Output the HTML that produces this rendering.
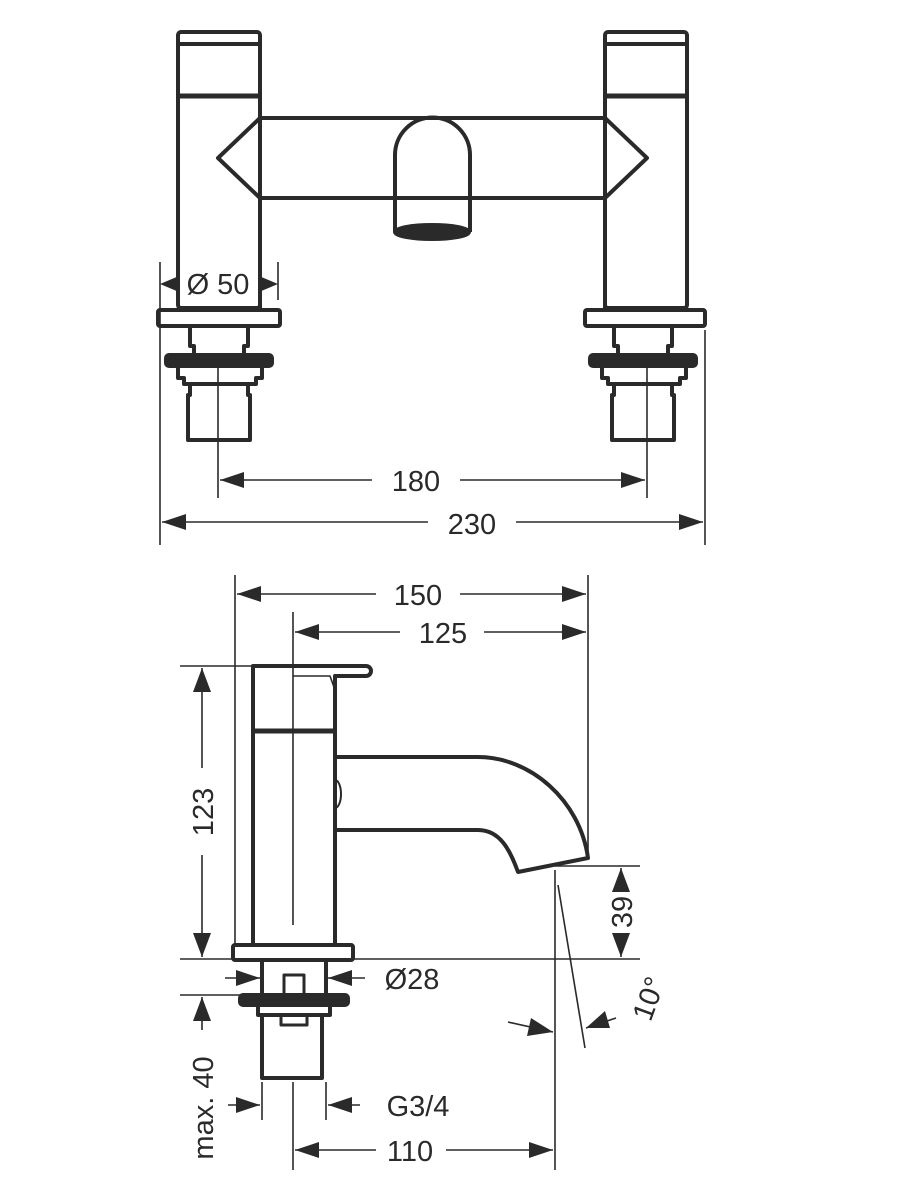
<!DOCTYPE html>
<html><head><meta charset="utf-8"><style>
html,body{margin:0;padding:0;background:#fff;}
svg{display:block;}
text{font-family:"Liberation Sans",sans-serif;font-size:29px;fill:#2a2a2a;}
</style></head><body>
<svg width="900" height="1200" viewBox="0 0 900 1200" xmlns="http://www.w3.org/2000/svg">
<g stroke="#2a2a2a" fill="none" stroke-linejoin="round">
<g stroke-width="4">
<rect x="178" y="32" width="82" height="276" rx="3"/>
<line x1="178" y1="44" x2="260" y2="44"/>
<line x1="178" y1="96" x2="260" y2="96" stroke-width="5"/>
<rect x="605" y="32" width="82" height="276" rx="3"/>
<line x1="605" y1="44" x2="687" y2="44"/>
<line x1="605" y1="96" x2="687" y2="96" stroke-width="5"/>
<path d="M260,124 L260,118 L605,118 L605,124 M605,118 L647,158 L605,198 M605,198 L260,198 L218,158 L260,118"/>
<path d="M260,198 L260,308 M605,198 L605,308"/>
<path d="M395,232 L395,155 A37,37 0 0 1 470,155 L470,232"/>
<ellipse cx="432" cy="232" rx="37" ry="7" fill="#2a2a2a"/>
<rect x="158" y="310" width="122" height="16" rx="2"/>
<rect x="585" y="310" width="120" height="16" rx="2"/>
<path d="M190,326 L190,346 L194,346 L194,355 M248,326 L248,346 L244,346 L244,355"/>
<rect x="166" y="355" width="106" height="11" rx="3" fill="#2a2a2a"/>
<path d="M178,366 L178,378 L184,378 L184,384 L256,384 L256,378 L262,378 L262,366"/>
<path d="M190,384 L190,395 L188,395 L188,440 L250,440 L250,395 L248,395 L248,384"/>
<path d="M614,326 L614,346 L618,346 L618,355 M672,326 L672,346 L668,346 L668,355"/>
<rect x="590" y="355" width="106" height="11" rx="3" fill="#2a2a2a"/>
<path d="M602,366 L602,378 L608,378 L608,384 L680,384 L680,378 L686,378 L686,366"/>
<path d="M614,384 L614,395 L612,395 L612,440 L674,440 L674,395 L672,395 L672,384"/>
</g>
<g stroke-width="1.6">
<line x1="218" y1="355" x2="218" y2="498"/>
<line x1="647" y1="355" x2="647" y2="498"/>
<line x1="160" y1="262" x2="160" y2="545"/>
<line x1="278" y1="262" x2="278" y2="300"/>
<line x1="705" y1="330" x2="705" y2="545"/>
<line x1="220" y1="480" x2="372" y2="480"/>
<line x1="460" y1="480" x2="645" y2="480"/>
<line x1="162" y1="522" x2="428" y2="522"/>
<line x1="516" y1="522" x2="703" y2="522"/>
</g>
<g stroke-width="4">
<path d="M253,945 L253,666 L366,666 A4,4 0 0 1 366,676 L335,676 L335,945"/>
<path d="M293,676 L330,676 L335,690" stroke-width="1.6"/>
<line x1="253" y1="731" x2="335" y2="731" stroke-width="5"/>
<path d="M335,757 L478,757 C530,757 580,800 588,858 L518,872 C510,850 500,830 478,830 L335,830"/>
<path d="M335,780 A6,14 0 0 1 335,808" stroke-width="2"/>
<rect x="233" y="945" width="120" height="15" rx="2"/>
<path d="M262,960 L262,995 M326,960 L326,995"/>
<rect x="284" y="975" width="20" height="20" stroke-width="3"/>
<rect x="240" y="995" width="108" height="10" rx="3" fill="#2a2a2a"/>
<path d="M258,1005 L258,1015 L330,1015 L330,1005"/>
<rect x="281" y="1015" width="26" height="10" stroke-width="3"/>
<path d="M262,1015 L262,1078 L322,1078 L322,1015"/>
</g>
<g stroke-width="1.6">
<line x1="235" y1="575" x2="235" y2="945"/>
<line x1="293" y1="612" x2="293" y2="925"/>
<line x1="588" y1="575" x2="588" y2="858"/>
<line x1="180" y1="666" x2="253" y2="666"/>
<line x1="180" y1="959" x2="640" y2="959"/>
<line x1="555" y1="866" x2="640" y2="866"/>
<line x1="180" y1="995" x2="240" y2="995"/>
<line x1="555" y1="870" x2="555" y2="1170"/>
<line x1="558" y1="885" x2="585" y2="1048"/>
<line x1="262" y1="1082" x2="262" y2="1120"/>
<line x1="326" y1="1082" x2="326" y2="1120"/>
<line x1="293" y1="1082" x2="293" y2="1170"/>
<line x1="237" y1="594" x2="376" y2="594"/>
<line x1="460" y1="594" x2="586" y2="594"/>
<line x1="295" y1="632" x2="400" y2="632"/>
<line x1="484" y1="632" x2="586" y2="632"/>
<line x1="202" y1="668" x2="202" y2="768"/>
<line x1="202" y1="855" x2="202" y2="957"/>
<line x1="621" y1="868" x2="621" y2="890"/>
<line x1="621" y1="935" x2="621" y2="957"/>
<line x1="202" y1="997" x2="202" y2="1030"/>
<line x1="225" y1="978" x2="260" y2="978"/>
<line x1="328" y1="978" x2="365" y2="978"/>
<line x1="228" y1="1105" x2="260" y2="1105"/>
<line x1="328" y1="1105" x2="360" y2="1105"/>
<line x1="295" y1="1150" x2="376" y2="1150"/>
<line x1="446" y1="1150" x2="553" y2="1150"/>
<path d="M508,1022 L553,1032"/>
<path d="M616,1018 L586,1028"/>
</g>
</g>
<g fill="#2a2a2a">
<polygon points="160,284 179,276 179,292"/>
<polygon points="278,284 259,276 259,292"/>
<polygon points="220,480 244,472 244,488"/>
<polygon points="645,480 621,472 621,488"/>
<polygon points="162,522 186,514 186,530"/>
<polygon points="703,522 679,514 679,530"/>
<polygon points="237,594 261,586 261,602"/>
<polygon points="586,594 562,586 562,602"/>
<polygon points="295,632 319,624 319,640"/>
<polygon points="586,632 562,624 562,640"/>
<polygon points="202,668 193,692 211,692"/>
<polygon points="202,957 193,933 211,933"/>
<polygon points="621,868 612,892 630,892"/>
<polygon points="621,957 612,933 630,933"/>
<polygon points="202,997 193,1021 211,1021"/>
<polygon points="260,978 236,970 236,986"/>
<polygon points="328,978 352,970 352,986"/>
<polygon points="260,1105 236,1097 236,1113"/>
<polygon points="328,1105 352,1097 352,1113"/>
<polygon points="295,1150 319,1142 319,1158"/>
<polygon points="553,1150 529,1142 529,1158"/>
<polygon points="553,1032 531,1018 527,1036"/>
<polygon points="586,1028 605,1011 610,1028"/>
</g>
<g>
<text x="218" y="294" text-anchor="middle">Ø 50</text>
<text x="416" y="491" text-anchor="middle">180</text>
<text x="472" y="534" text-anchor="middle">230</text>
<text x="418" y="605" text-anchor="middle">150</text>
<text x="443" y="643" text-anchor="middle">125</text>
<text x="412" y="989" text-anchor="middle">Ø28</text>
<text x="418" y="1116" text-anchor="middle">G3/4</text>
<text x="410" y="1161" text-anchor="middle">110</text>
<text transform="translate(213,812) rotate(-90)" text-anchor="middle">123</text>
<text transform="translate(632,912) rotate(-90)" text-anchor="middle">39</text>
<text transform="translate(213,1108) rotate(-90)" text-anchor="middle">max. 40</text>
<text transform="translate(658,1002) rotate(-70)" text-anchor="middle">10°</text>
</g>
</svg>
</body></html>
